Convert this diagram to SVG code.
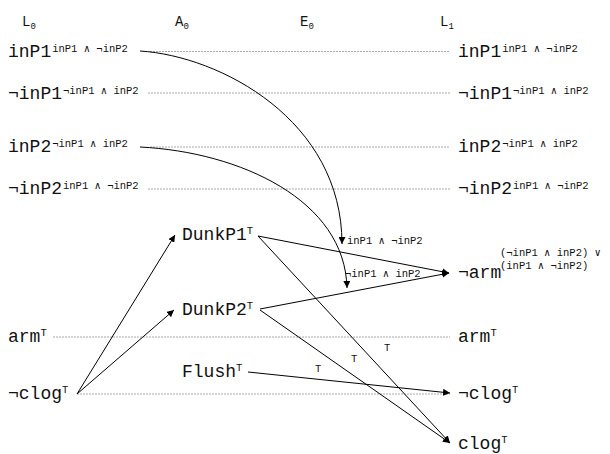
<svg xmlns="http://www.w3.org/2000/svg" width="610" height="454" viewBox="0 0 610 454">
<style>
text{font-family:"Liberation Mono","Courier New",monospace;fill:#111}
.n{font-size:18px}
.s{font-size:10.5px}
.h{font-size:14px}
.e{font-size:10.5px}
.d{stroke:#aaa;stroke-width:1;stroke-dasharray:2,1;fill:none}
.c{stroke:#000;stroke-width:1;fill:none}
</style>
<defs>
<marker id="ah" viewBox="0 0 10 10" refX="10" refY="5" markerWidth="7" markerHeight="7" markerUnits="userSpaceOnUse" orient="auto">
<path d="M0,0 L10,5 L0,10 z" fill="#000"/>
</marker>
</defs>
<g id="headers">
<text class="h" x="22" y="26">L<tspan font-size="9" dy="3">0</tspan></text>
<text class="h" x="175" y="26">A<tspan font-size="9" dy="3">0</tspan></text>
<text class="h" x="300" y="26">E<tspan font-size="9" dy="3">0</tspan></text>
<text class="h" x="440" y="26">L<tspan font-size="9" dy="3">1</tspan></text>
</g>
<g id="guides">
<line class="d" x1="150" y1="51.5" x2="450" y2="51.5"/>
<line class="d" x1="148" y1="93" x2="450" y2="93"/>
<line class="d" x1="150" y1="147" x2="450" y2="147"/>
<line class="d" x1="148" y1="189" x2="450" y2="189"/>
<line class="d" x1="53" y1="337" x2="450" y2="337"/>
<line class="d" x1="77" y1="394" x2="450" y2="394"/>
</g>
<g id="L0_inP1"><text class="n" x="8" y="57">inP1<tspan class="s" dx="1" dy="-5">inP1 ∧ ¬inP2</tspan></text></g>
<g id="L0_ninP1"><text class="n" x="8" y="98.5">¬inP1<tspan class="s" dx="1" dy="-5">¬inP1 ∧ inP2</tspan></text></g>
<g id="L0_inP2"><text class="n" x="8" y="152">inP2<tspan class="s" dx="1" dy="-5">¬inP1 ∧ inP2</tspan></text></g>
<g id="L0_ninP2"><text class="n" x="8" y="194">¬inP2<tspan class="s" dx="1" dy="-5">inP1 ∧ ¬inP2</tspan></text></g>
<g id="L0_arm"><text class="n" x="8" y="342">arm<tspan class="s" dx="0" dy="-6">T</tspan></text></g>
<g id="L0_nclog"><text class="n" x="8" y="399">¬clog<tspan class="s" dx="0" dy="-6">T</tspan></text></g>
<g id="A_DunkP1"><text class="n" x="182" y="240">DunkP1<tspan class="s" dx="0" dy="-6">T</tspan></text></g>
<g id="A_DunkP2"><text class="n" x="182" y="315">DunkP2<tspan class="s" dx="0" dy="-6">T</tspan></text></g>
<g id="A_Flush"><text class="n" x="182" y="377">Flush<tspan class="s" dx="0" dy="-6">T</tspan></text></g>
<g id="L1_inP1"><text class="n" x="458" y="57">inP1<tspan class="s" dx="1" dy="-5">inP1 ∧ ¬inP2</tspan></text></g>
<g id="L1_ninP1"><text class="n" x="458" y="98.5">¬inP1<tspan class="s" dx="1" dy="-5">¬inP1 ∧ inP2</tspan></text></g>
<g id="L1_inP2"><text class="n" x="458" y="152">inP2<tspan class="s" dx="1" dy="-5">¬inP1 ∧ inP2</tspan></text></g>
<g id="L1_ninP2"><text class="n" x="458" y="194">¬inP2<tspan class="s" dx="1" dy="-5">inP1 ∧ ¬inP2</tspan></text></g>
<g id="L1_narm"><text class="n" x="458" y="278">¬arm</text><text class="s" x="500" y="256">(¬inP1 ∧ inP2) ∨</text><text class="s" x="500" y="269">(inP1 ∧ ¬inP2)</text></g>
<g id="L1_arm"><text class="n" x="458" y="342">arm<tspan class="s" dx="0" dy="-6">T</tspan></text></g>
<g id="L1_nclog"><text class="n" x="458" y="399">¬clog<tspan class="s" dx="0" dy="-6">T</tspan></text></g>
<g id="L1_clog"><text class="n" x="458" y="449">clog<tspan class="s" dx="0" dy="-6">T</tspan></text></g>
<g id="connectors">
<path class="c" d="M140,51 C220,56 342,120 342,244" marker-end="url(#ah)"/>
<path class="c" d="M140,147 C240,152 345,200 347,288" marker-end="url(#ah)"/>
<line class="c" x1="77" y1="394" x2="175" y2="235" marker-end="url(#ah)"/>
<line class="c" x1="77" y1="394" x2="174" y2="310" marker-end="url(#ah)"/>
<line class="c" x1="258" y1="236" x2="449" y2="273" marker-end="url(#ah)"/>
<line class="c" x1="260" y1="309" x2="449" y2="273" marker-end="url(#ah)"/>
<line class="c" x1="258" y1="236" x2="450" y2="443" marker-end="url(#ah)"/>
<line class="c" x1="260" y1="310" x2="450" y2="443" marker-end="url(#ah)"/>
<line class="c" x1="248" y1="372" x2="450" y2="393" marker-end="url(#ah)"/>
<text class="e" x="347" y="244">inP1 ∧ ¬inP2</text>
<text class="e" x="345" y="277">¬inP1 ∧ inP2</text>
<text class="e" x="315" y="372">T</text>
<text class="e" x="351" y="362">T</text>
<text class="e" x="384" y="351">T</text>
</g>
</svg>
